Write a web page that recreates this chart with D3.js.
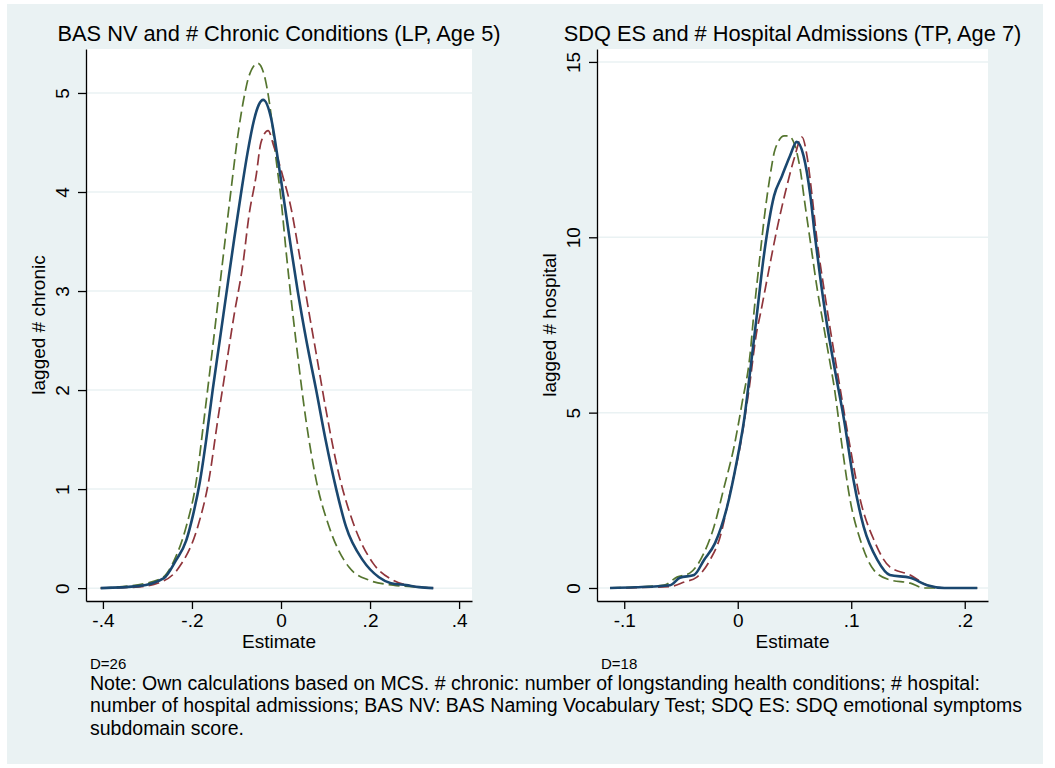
<!DOCTYPE html>
<html>
<head>
<meta charset="utf-8">
<script src="https://cdn.jsdelivr.net/npm/d3@7"></script>
<style>
  body { margin: 0; background: #fff; }
  svg text { font-family: "Liberation Sans", Arial, sans-serif; fill: #000; }
</style>
</head>
<body>
<div id="chart"></div>
<script>
// Panel 1: BAS NV and # chronic conditions (LP, age 5)
const lpBlueX  = [-0.405, -0.32, -0.263, -0.236, -0.213, -0.197, -0.182, -0.168, -0.1535, -0.137, -0.120, -0.105, -0.090, -0.075, -0.061, -0.050, -0.040, -0.022, -0.007, 0.004, 0.022, 0.0375, 0.057, 0.079, 0.100, 0.124, 0.146, 0.184, 0.220, 0.247, 0.281, 0.310, 0.342];
const lpBlueY  = [0, 0.02, 0.10, 0.28, 0.48, 0.75, 1.08, 1.5, 2.0, 2.52, 3.06, 3.53, 3.98, 4.4, 4.72, 4.88, 4.93, 4.74, 4.33, 4.0, 3.45, 3.0, 2.5, 2.0, 1.5, 1.0, 0.62, 0.28, 0.11, 0.05, 0.03, 0.01, 0];
const lpGreenX = [-0.405, -0.303, -0.265, -0.240, -0.213, -0.191, -0.173, -0.153, -0.128, -0.112, -0.097, -0.081, -0.072, -0.052, -0.034, -0.022, -0.011, 0, 0.011, 0.027, 0.034, 0.056, 0.079, 0.108, 0.153, 0.198, 0.252, 0.31, 0.342];
const lpGreenY = [0, 0.05, 0.11, 0.28, 0.62, 1.06, 1.70, 2.45, 3.42, 4.03, 4.57, 5.0, 5.17, 5.30, 5.11, 4.77, 4.33, 3.93, 3.42, 2.75, 2.48, 1.70, 1.09, 0.62, 0.21, 0.08, 0.03, 0.01, 0];
const lpRedX   = [-0.405, -0.326, -0.265, -0.229, -0.187, -0.162, -0.142, -0.124, -0.106, -0.085, -0.072, -0.056, -0.045, -0.029, -0.016, 0.004, 0.022, 0.04, 0.063, 0.079, 0.101, 0.130, 0.162, 0.207, 0.252, 0.31, 0.342];
const lpRedY   = [0, 0.01, 0.07, 0.21, 0.62, 1.09, 1.70, 2.22, 2.74, 3.29, 3.76, 4.16, 4.5, 4.62, 4.46, 4.16, 3.85, 3.40, 2.78, 2.37, 1.80, 1.15, 0.66, 0.25, 0.08, 0.01, 0];

// Panel 2: SDQ ES and # hospital admissions (TP, age 7)
const tpBlueX  = [-0.1125, -0.09, -0.0596, -0.051, -0.0385, -0.0297, -0.020, -0.0094, -0.0006, 0.0056, 0.011, 0.016, 0.023, 0.032, 0.039, 0.046, 0.052, 0.058, 0.064, 0.068, 0.0725, 0.0787, 0.0857, 0.0937, 0.102, 0.111, 0.123, 0.134, 0.152, 0.167, 0.182, 0.211];
const tpBlueY  = [0, 0.02, 0.08, 0.29, 0.37, 0.80, 1.28, 2.31, 3.65, 4.79, 6.2, 7.55, 9.47, 11.18, 11.75, 12.32, 12.72, 12.32, 11.18, 10.04, 8.9, 7.5, 6.2, 4.79, 3.08, 1.74, 0.80, 0.37, 0.29, 0.08, 0, 0];
const tpGreenX = [-0.1125, -0.065, -0.0535, -0.042, -0.0297, -0.021, -0.012, -0.0033, 0.0038, 0.011, 0.014, 0.0196, 0.024, 0.0285, 0.033, 0.041, 0.045, 0.0505, 0.055, 0.059, 0.064, 0.070, 0.076, 0.080, 0.085, 0.092, 0.099, 0.108, 0.120, 0.134, 0.152, 0.164, 0.211];
const tpGreenY = [0, 0.08, 0.31, 0.43, 1.0, 1.74, 2.88, 4.02, 5.27, 6.7, 7.76, 9.47, 10.72, 11.75, 12.52, 12.89, 12.89, 12.6, 11.95, 11.0, 9.87, 8.53, 7.41, 6.66, 5.73, 4.02, 2.51, 1.37, 0.51, 0.23, 0.14, 0, 0];
const tpRedX   = [-0.1125, -0.06, -0.047, -0.036, -0.0244, -0.0156, -0.0068, 0.002, 0.0095, 0.017, 0.0196, 0.0276, 0.0346, 0.042, 0.0496, 0.0566, 0.061, 0.0655, 0.070, 0.076, 0.0813, 0.090, 0.099, 0.108, 0.120, 0.134, 0.152, 0.167, 0.182, 0.211];
const tpRedY   = [0, 0.04, 0.17, 0.31, 0.80, 1.45, 2.71, 4.02, 5.56, 7.36, 7.76, 9.1, 10.24, 11.29, 12.23, 12.86, 12.32, 11.18, 9.87, 8.53, 7.42, 5.73, 4.02, 2.51, 1.37, 0.60, 0.37, 0.08, 0, 0];

// ticks
const lpXTicks = [-0.4, -0.2, 0, 0.2, 0.4];
const lpXLabels = ["-.4", "-.2", "0", ".2", ".4"];
const lpYTicks = [0, 1, 2, 3, 4, 5];
const tpXTicks = [-0.1, 0, 0.1, 0.2];
const tpXLabels = ["-.1", "0", ".1", ".2"];
const tpYTicks = [0, 5, 10, 15];

const noteLines = [
  "Note: Own calculations based on MCS. # chronic: number of longstanding health conditions; # hospital:",
  "number of hospital admissions; BAS NV: BAS Naming Vocabulary Test; SDQ ES: SDQ emotional symptoms",
  "subdomain score."
];

const W = 1055, H = 768;
const colors = { blue: "#1a476f", red: "#90353b", green: "#55752f" };

const svg = d3.select("#chart").append("svg")
  .attr("width", W)
  .attr("height", H);

svg.append("rect")
  .attr("x", 7).attr("y", 4)
  .attr("width", 1036).attr("height", 760)
  .attr("fill", "#eaf2f3");

function zip(xs, ys) {
  return xs.map((x, i) => ({ x: x, y: ys[i] }));
}

function drawPanel(p) {
  const x = d3.scaleLinear().domain(p.xDomain).range([p.left, p.right]);
  const y = d3.scaleLinear().domain(p.yDomain).range([p.bottom, p.top]);

  svg.append("rect")
    .attr("x", p.left).attr("y", p.top)
    .attr("width", p.right - p.left)
    .attr("height", p.bottom - p.top)
    .attr("fill", "#fff");

  // grid
  svg.append("g")
    .selectAll("line")
    .data(p.yTicks)
    .enter()
    .append("line")
      .attr("x1", p.left).attr("x2", p.right)
      .attr("y1", d => y(d)).attr("y2", d => y(d))
      .attr("stroke", "#eaf2f3")
      .attr("stroke-width", 1.5);

  const line = d3.line()
    .x(d => x(d.x))
    .y(d => y(d.y))
    .curve(d3.curveMonotoneX);

  p.series.forEach(s => {
    svg.append("path")
      .datum(zip(s.xs, s.ys))
      .attr("fill", "none")
      .attr("stroke", s.color)
      .attr("stroke-width", s.dash ? 1.7 : 2.6)
      .attr("stroke-dasharray", s.dash ? "11,5" : null)
      .attr("d", line);
  });

  const xAxis = svg.append("g")
    .attr("transform", `translate(0,${p.bottom})`)
    .call(d3.axisBottom(x)
      .tickValues(p.xTicks)
      .tickFormat((d, i) => p.xLabels[i])
      .tickSize(8)
      .tickSizeOuter(0)
      .tickPadding(5));
  xAxis.selectAll("text").style("font-size", "19px");

  const yAxis = svg.append("g")
    .attr("transform", `translate(${p.left},0)`)
    .call(d3.axisLeft(y)
      .tickValues(p.yTicks)
      .tickFormat(d3.format("d"))
      .tickSize(8)
      .tickSizeOuter(0));
  yAxis.selectAll("text")
    .attr("x", null).attr("dy", null)
    .attr("text-anchor", "middle")
    .attr("transform", "translate(-17,0) rotate(-90)")
    .style("font-size", "19px");

  [xAxis, yAxis].forEach(a => {
    a.select(".domain").attr("stroke", "#000").attr("stroke-width", 1.3);
    a.selectAll(".tick line").attr("stroke", "#000").attr("stroke-width", 1.3);
  });

  const cx = (p.left + p.right) / 2;
  svg.append("text")
    .attr("x", cx).attr("y", 41)
    .attr("text-anchor", "middle")
    .style("font-size", "21.8px")
    .text(p.title);

  svg.append("text")
    .attr("x", cx).attr("y", 648)
    .attr("text-anchor", "middle")
    .style("font-size", "19px")
    .text("Estimate");

  svg.append("text")
    .attr("transform", `translate(${p.yTitleX},${(p.top + p.bottom) / 2}) rotate(-90)`)
    .attr("text-anchor", "middle")
    .style("font-size", "19px")
    .text(p.yTitle);

  svg.append("text")
    .attr("x", p.left + 4).attr("y", 669)
    .style("font-size", "15px")
    .text(p.dText);
}

drawPanel({
  title: "BAS NV and # Chronic Conditions (LP, Age 5)",
  yTitle: "lagged # chronic", yTitleX: 45, dText: "D=26",
  left: 86, right: 472, top: 49, bottom: 601,
  xDomain: [-0.438, 0.429], yDomain: [-0.13, 5.444],
  xTicks: lpXTicks, xLabels: lpXLabels, yTicks: lpYTicks,
  series: [
    { xs: lpGreenX, ys: lpGreenY, color: colors.green, dash: true },
    { xs: lpRedX, ys: lpRedY, color: colors.red, dash: true },
    { xs: lpBlueX, ys: lpBlueY, color: colors.blue, dash: false }
  ]
});

drawPanel({
  title: "SDQ ES and # Hospital Admissions (TP, Age 7)",
  yTitle: "lagged # hospital", yTitleX: 556, dText: "D=18",
  left: 597, right: 988, top: 49, bottom: 601,
  xDomain: [-0.124, 0.2205], yDomain: [-0.371, 15.369],
  xTicks: tpXTicks, xLabels: tpXLabels, yTicks: tpYTicks,
  series: [
    { xs: tpGreenX, ys: tpGreenY, color: colors.green, dash: true },
    { xs: tpRedX, ys: tpRedY, color: colors.red, dash: true },
    { xs: tpBlueX, ys: tpBlueY, color: colors.blue, dash: false }
  ]
});

svg.append("g")
  .selectAll("text")
  .data(noteLines)
  .enter()
  .append("text")
    .attr("x", 90)
    .attr("y", (d, i) => 690 + i * 22.4)
    .style("font-size", "19.5px")
    .text(d => d);
</script>
</body>
</html>
